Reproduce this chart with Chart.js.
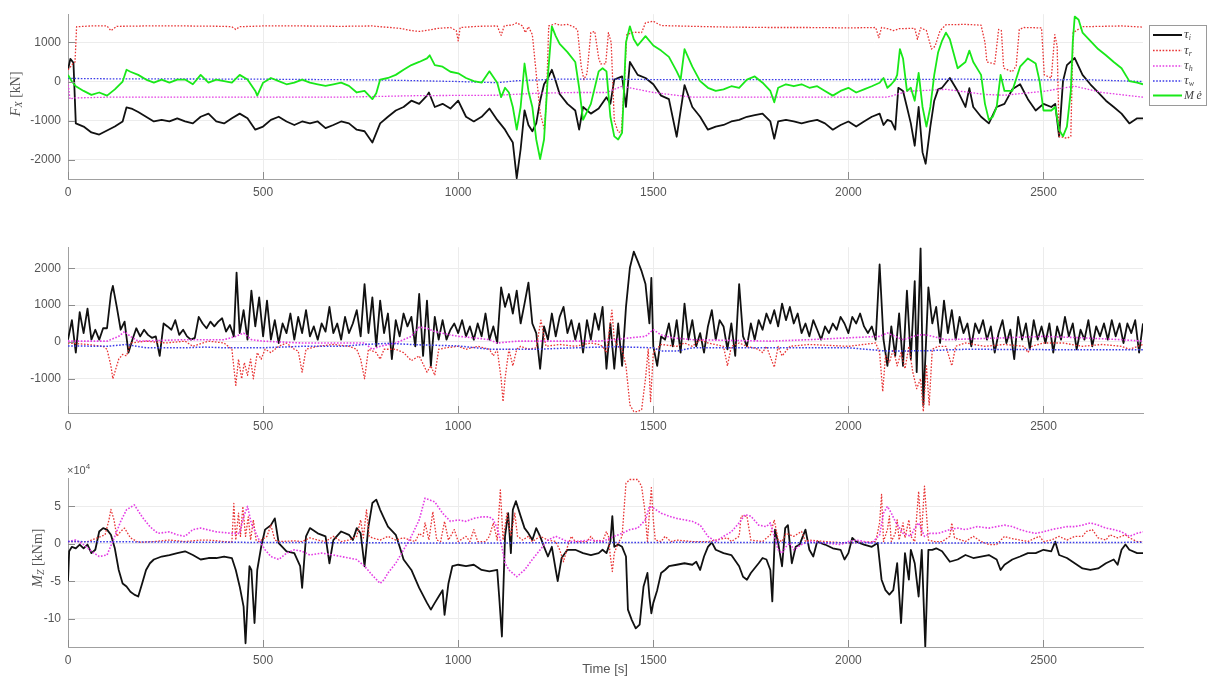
<!DOCTYPE html>
<html><head><meta charset="utf-8">
<script src="https://cdn.jsdelivr.net/npm/chart.js@4.4.1/dist/chart.umd.min.js"></script>
<style>
html,body{margin:0;padding:0;background:#fff;width:1208px;height:684px;overflow:hidden}
canvas{position:absolute;left:0}
</style></head><body>
<canvas id="c1" width="1208" height="199" style="top:0"></canvas>
<canvas id="c2" width="1208" height="200" style="top:233px"></canvas>
<canvas id="c3" width="1208" height="229" style="top:455px"></canvas>
<script>
// ---------- tick labels ----------
const timeTicks = [0, 500, 1000, 1500, 2000, 2500];
const fxTicks = [-2000, -1000, 0, 1000];
const fyTicks = [-1000, 0, 1000, 2000];
const mzTicks = [-10, -5, 0, 5];           // ×10^4 kNm
const seriesNames = ['τi', 'τr', 'τh', 'τw', 'Mė'];

// ---------- F_X [kN]  ([time s, value]) ----------
const fxTauI = [[0,300],[6,580],[14,480],[20,-1070],[40,-1150],[60,-1300],[80,-1355],[100,-1250],[120,-1150],[140,-1020],[150,-660],[165,-700],[180,-780],[200,-900],[220,-1020],[240,-980],[260,-1020],[280,-940],[300,-1020],[320,-1070],[340,-900],[360,-820],[380,-1020],[400,-1070],[420,-940],[440,-820],[460,-940],[480,-1230],[500,-1150],[520,-980],[540,-900],[560,-1020],[580,-1110],[600,-1020],[620,-1070],[640,-1020],[660,-1190],[680,-1110],[700,-1020],[720,-1070],[740,-1230],[760,-1270],[780,-1560],[800,-1070],[820,-900],[840,-740],[860,-650],[880,-490],[900,-570],[920,-360],[925,-280],[940,-650],[960,-570],[980,-690],[1000,-490],[1020,-900],[1040,-1020],[1060,-900],[1080,-690],[1100,-980],[1120,-1230],[1130,-1400],[1140,-1560],[1150,-2470],[1160,-1730],[1170,-735],[1180,-1110],[1190,-1270],[1200,-1070],[1210,-490],[1220,-70],[1230,90],[1240,300],[1250,10],[1260,-320],[1280,-570],[1300,-740],[1310,-1230],[1320,-650],[1340,-820],[1360,-690],[1380,-400],[1390,-570],[1400,50],[1420,130],[1430,-650],[1440,500],[1460,170],[1480,90],[1500,-70],[1520,-360],[1540,-450],[1560,-1410],[1580,-90],[1600,-650],[1620,-900],[1640,-1230],[1660,-1150],[1680,-1110],[1700,-1020],[1720,-980],[1740,-900],[1760,-860],[1780,-820],[1800,-1020],[1810,-1460],[1820,-1020],[1840,-980],[1860,-1020],[1880,-1070],[1900,-1020],[1920,-980],[1940,-1070],[1960,-1230],[1980,-1110],[2000,-1020],[2020,-1150],[2040,-1020],[2060,-900],[2080,-820],[2090,-1110],[2100,-980],[2110,-1020],[2120,-1230],[2128,-160],[2140,-240],[2150,-650],[2160,-1070],[2170,-1640],[2180,-650],[2190,-1810],[2198,-2100],[2210,-1150],[2220,-490],[2230,-200],[2240,-160],[2260,90],[2280,-240],[2300,-650],[2310,-170],[2320,-650],[2340,-900],[2360,-1070],[2380,-650],[2400,-570],[2420,-200],[2440,-70],[2460,-450],[2480,-740],[2500,-570],[2520,-650],[2530,-570],[2540,-1410],[2550,10],[2560,420],[2580,600],[2600,170],[2620,-70],[2640,-280],[2660,-490],[2680,-650],[2700,-820],[2720,-1070],[2740,-940],[2755,-940]];
const fxTauR = [[0,300],[12,450],[18,500],[22,1400],[60,1420],[100,1420],[110,1300],[125,1410],[200,1420],[300,1420],[400,1410],[420,1400],[430,1330],[440,1400],[500,1420],[600,1420],[700,1410],[780,1420],[800,1400],[850,1360],[880,1300],[900,1280],[920,1310],[950,1360],[980,1380],[995,1300],[1000,1040],[1005,1380],[1050,1410],[1100,1420],[1110,1180],[1118,1420],[1140,1450],[1150,1500],[1165,1420],[1172,1250],[1180,1400],[1190,1200],[1200,200],[1210,-800],[1221,-1230],[1226,-500],[1232,1420],[1250,1480],[1260,1440],[1280,1460],[1300,1380],[1306,1300],[1315,400],[1322,50],[1330,200],[1340,1250],[1350,1280],[1360,600],[1365,450],[1378,450],[1385,1250],[1392,1000],[1400,-1000],[1410,-1290],[1418,-1290],[1425,-200],[1432,1200],[1450,1260],[1470,1250],[1480,1500],[1500,1540],[1520,1430],[1600,1410],[1700,1390],[1800,1380],[1900,1380],[2000,1370],[2070,1380],[2078,1120],[2085,1380],[2100,1350],[2115,1300],[2130,1350],[2170,1360],[2177,1080],[2185,1370],[2200,1300],[2213,830],[2222,900],[2235,1300],[2250,1450],[2300,1460],[2340,1440],[2350,1000],[2355,500],[2375,450],[2385,1330],[2392,1300],[2398,340],[2420,250],[2430,400],[2438,1330],[2450,1380],[2495,1370],[2502,170],[2520,90],[2529,1200],[2535,900],[2540,-1400],[2560,-1450],[2570,-1400],[2576,1250],[2600,1400],[2700,1420],[2755,1390]];
const fxTauH = [[0,0],[5,-450],[15,-420],[100,-400],[700,-400],[900,-360],[1100,-350],[1200,-300],[1300,-280],[1380,-280],[1420,-120],[1450,-180],[1500,-280],[1600,-400],[2100,-400],[2150,-250],[2250,-200],[2350,-330],[2400,-350],[2500,-250],[2580,-120],[2650,-280],[2755,-400]];
const fxTauW = [[0,80],[100,70],[500,60],[800,40],[1000,0],[1100,-30],[1150,20],[1250,60],[1400,60],[1500,50],[2000,50],[2300,60],[2500,40],[2600,50],[2755,0]];
const fxMe = [[0,170],[10,0],[20,-120],[40,-240],[60,-340],[80,-280],[100,-360],[120,-200],[140,0],[150,300],[160,250],[180,170],[200,50],[220,-30],[240,50],[260,-30],[280,50],[300,50],[320,-70],[340,170],[360,-30],[380,50],[400,10],[420,-30],[440,170],[460,50],[480,-240],[485,-360],[500,-30],[520,90],[540,10],[560,-70],[580,-30],[600,50],[620,-30],[640,-70],[660,-110],[680,-70],[700,-30],[720,-110],[740,-280],[760,-240],[780,-450],[790,-300],[800,50],[820,90],[840,170],[860,300],[880,420],[900,500],[920,590],[927,670],[940,420],[960,380],[980,250],[1000,210],[1020,90],[1040,10],[1060,-30],[1080,260],[1100,-30],[1110,-400],[1120,-160],[1130,-280],[1140,-650],[1150,-1230],[1160,-650],[1170,460],[1180,-240],[1190,-650],[1200,-1480],[1210,-1980],[1220,-1480],[1230,170],[1240,1410],[1250,1160],[1260,960],[1280,750],[1300,500],[1310,-160],[1320,-980],[1340,-570],[1360,260],[1370,340],[1380,260],[1390,-900],[1400,-1400],[1410,-1480],[1420,-1310],[1430,1000],[1440,1410],[1450,1080],[1460,920],[1480,1160],[1500,920],[1520,790],[1540,630],[1560,260],[1570,50],[1580,830],[1600,380],[1620,10],[1640,-160],[1660,-240],[1680,-200],[1700,-120],[1720,-160],[1740,50],[1760,130],[1780,-30],[1800,-240],[1810,-530],[1820,-160],[1840,-70],[1860,-120],[1880,-70],[1900,-160],[1920,-120],[1940,-240],[1960,-360],[1980,-240],[2000,-160],[2020,-280],[2040,-200],[2060,-120],[2080,-30],[2090,90],[2100,-160],[2110,-70],[2120,50],[2125,170],[2132,830],[2140,590],[2150,-240],[2160,-160],[2170,-490],[2180,220],[2190,-650],[2200,-1150],[2210,-650],[2220,170],[2230,750],[2240,1040],[2250,1250],[2260,1080],[2280,340],[2300,500],[2310,790],[2320,500],[2340,170],[2350,-570],[2360,-980],[2370,-900],[2380,-650],[2390,170],[2400,-240],[2420,-240],[2440,380],[2460,590],[2480,460],[2490,10],[2500,-740],[2520,-740],[2530,-650],[2540,-1230],[2550,-1400],[2560,-1150],[2570,-240],[2575,1000],[2580,1660],[2590,1580],[2600,1250],[2620,1040],[2640,830],[2660,670],[2680,500],[2700,340],[2720,10],[2740,-30],[2755,-70]];

// ---------- F_Y [kN] ----------
const fyTauI = [[0,60],[10,590],[20,-290],[30,810],[40,240],[50,900],[60,60],[70,330],[80,60],[90,370],[100,370],[110,1300],[115,1520],[125,950],[135,330],[145,550],[155,-290],[165,60],[175,370],[185,150],[195,330],[205,190],[215,110],[225,150],[235,-380],[245,500],[255,420],[265,330],[275,590],[285,190],[295,330],[305,150],[315,60],[325,110],[335,680],[345,500],[355,370],[365,550],[375,420],[385,550],[395,640],[405,280],[415,460],[425,150],[432,1880],[440,240],[450,860],[460,60],[470,1390],[480,420],[490,1210],[500,150],[510,1120],[520,60],[530,590],[540,-30],[550,500],[560,240],[570,770],[580,60],[590,680],[600,240],[610,860],[620,150],[630,420],[640,60],[650,500],[660,280],[670,950],[680,240],[690,500],[700,60],[710,680],[720,240],[730,500],[740,860],[750,150],[760,1570],[770,240],[780,1210],[790,-120],[800,1120],[810,240],[820,770],[830,-470],[840,590],[850,150],[860,770],[870,420],[880,680],[890,-120],[900,1300],[910,-380],[920,1120],[930,-650],[940,680],[950,60],[960,590],[970,60],[980,330],[990,500],[1000,240],[1010,590],[1020,150],[1030,420],[1040,60],[1050,500],[1060,150],[1070,770],[1080,60],[1090,420],[1100,-30],[1110,1480],[1120,950],[1130,1300],[1140,770],[1150,1390],[1160,500],[1170,1040],[1180,1610],[1190,500],[1200,240],[1210,-730],[1220,420],[1230,60],[1240,770],[1250,150],[1260,680],[1270,950],[1280,240],[1290,590],[1300,60],[1310,500],[1320,-290],[1330,590],[1340,60],[1350,770],[1360,330],[1370,950],[1380,-730],[1390,500],[1400,-730],[1410,500],[1420,-650],[1430,950],[1440,2010],[1450,2450],[1460,2190],[1470,1920],[1480,1570],[1490,500],[1495,1740],[1500,-120],[1510,-650],[1520,150],[1530,60],[1540,500],[1550,-120],[1560,590],[1570,-290],[1580,1040],[1590,60],[1600,590],[1610,-120],[1620,240],[1630,-290],[1640,420],[1650,860],[1660,60],[1670,590],[1680,420],[1690,-200],[1700,500],[1710,-380],[1720,1570],[1730,150],[1740,-120],[1750,500],[1760,60],[1770,590],[1780,330],[1790,770],[1800,500],[1810,860],[1820,420],[1830,1040],[1840,590],[1850,950],[1860,500],[1870,770],[1880,240],[1890,500],[1900,150],[1910,590],[1920,330],[1930,60],[1940,420],[1950,240],[1960,500],[1970,330],[1980,680],[1990,500],[2000,240],[2010,680],[2020,500],[2030,770],[2040,420],[2050,240],[2060,420],[2070,60],[2080,2100],[2090,60],[2100,-650],[2110,420],[2120,-380],[2130,770],[2140,-650],[2150,1390],[2160,-470],[2170,1650],[2175,-820],[2185,2540],[2192,-1710],[2205,1480],[2215,500],[2225,950],[2235,-30],[2245,1120],[2255,240],[2265,860],[2275,60],[2285,680],[2295,240],[2305,500],[2315,-120],[2325,500],[2335,240],[2345,590],[2355,60],[2365,420],[2375,-290],[2385,240],[2395,590],[2405,-30],[2415,330],[2425,-470],[2435,680],[2445,60],[2455,500],[2465,-200],[2475,590],[2485,60],[2495,420],[2505,-30],[2515,500],[2525,-290],[2535,420],[2545,60],[2555,680],[2565,150],[2575,500],[2585,-200],[2595,330],[2605,60],[2615,590],[2625,-120],[2635,420],[2645,150],[2655,500],[2665,60],[2675,590],[2685,150],[2695,500],[2705,-30],[2715,500],[2725,240],[2735,590],[2745,-290],[2755,500]];
const fyTauR = [[0,-30],[50,-70],[90,-120],[100,-200],[110,-650],[115,-1000],[120,-820],[130,-470],[140,-340],[150,-380],[160,-30],[200,20],[250,-30],[300,20],[320,-120],[360,20],[400,-30],[420,-200],[430,-1180],[437,-470],[445,-1000],[452,-560],[460,-910],[468,-470],[475,-1000],[485,-290],[495,-470],[505,-200],[520,-290],[540,-120],[560,-30],[580,-200],[590,-250],[600,-820],[610,-200],[640,-120],[680,-70],[720,-120],[740,-200],[750,-470],[760,-1000],[770,-200],[790,-290],[800,-470],[810,-200],[840,-200],[860,-290],[880,-510],[900,-380],[920,-820],[930,-650],[940,-910],[950,-200],[970,-160],[1000,-120],[1020,-200],[1050,-120],[1080,-200],[1090,-380],[1100,-200],[1110,-1000],[1115,-1620],[1120,-1000],[1130,-200],[1140,-650],[1150,-200],[1160,-120],[1180,-200],[1200,-160],[1212,590],[1225,-120],[1260,-70],[1300,-120],[1340,-30],[1360,-70],[1370,-120],[1380,-290],[1394,860],[1400,60],[1410,-120],[1420,-200],[1430,-650],[1440,-1710],[1450,-1890],[1460,-1890],[1470,-1840],[1480,-1000],[1487,-200],[1493,-1620],[1500,-290],[1520,-70],[1560,-120],[1580,-30],[1600,-120],[1620,60],[1640,-30],[1680,-120],[1690,-650],[1700,-120],[1720,-30],[1740,-120],[1770,-200],[1780,-290],[1790,-120],[1810,-690],[1820,-120],[1830,-380],[1850,-120],[1900,-70],[2000,-120],[2070,-30],[2080,-290],[2088,-1350],[2095,-380],[2105,-560],[2115,-200],[2125,-650],[2135,-290],[2145,-730],[2155,-120],[2165,-820],[2175,-1270],[2185,-1000],[2192,-1890],[2200,-650],[2207,-1710],[2215,-200],[2230,-120],[2250,-120],[2265,-650],[2275,-120],[2300,-30],[2350,-120],[2400,-70],[2450,-120],[2460,-290],[2470,-120],[2500,-30],[2550,-30],[2600,-120],[2650,-70],[2700,-120],[2720,-200],[2755,-70]];
const fyTauH = [[0,20],[100,20],[130,150],[145,280],[160,150],[180,20],[300,60],[400,60],[430,150],[450,240],[470,60],[500,20],[600,-30],[700,-30],[760,-30],[780,-200],[800,-120],[840,-30],[880,150],[900,400],[920,370],[940,280],[980,190],[1000,150],[1040,110],[1080,60],[1100,-30],[1150,20],[1300,20],[1360,20],[1400,60],[1440,110],[1480,150],[1500,330],[1520,190],[1550,110],[1600,60],[1800,20],[1900,60],[2080,150],[2100,240],[2120,150],[2140,60],[2180,190],[2200,190],[2250,60],[2400,110],[2500,150],[2600,110],[2700,60],[2755,20]];
const fyTauW = [[0,-110],[100,-120],[150,-70],[200,-160],[300,-160],[350,-140],[400,-160],[500,-160],[600,-120],[700,-120],[760,-70],[820,-40],[900,-80],[1000,-110],[1080,-200],[1200,-200],[1300,-160],[1400,-130],[1500,-160],[1520,-250],[1560,-250],[1600,-160],[2000,-160],[2100,-250],[2200,-240],[2300,-200],[2500,-210],[2755,-210]];

// ---------- M_Z [×10^4 kNm] ----------
const mzTauI = [[0,-5],[3,-1],[10,-0.4],[20,-0.6],[30,-0.1],[40,-0.6],[50,-0.1],[60,-1.25],[70,-0.8],[80,1.65],[90,2.1],[100,1.9],[110,1.2],[120,-0.6],[130,-3.5],[140,-5.3],[150,-5.7],[160,-6.4],[170,-6.8],[180,-7.05],[190,-5.3],[200,-3.5],[210,-2.6],[220,-2.1],[240,-1.7],[260,-1.5],[280,-1.25],[300,-1],[320,-1.5],[340,-2.1],[360,-1.9],[380,-1.9],[400,-1.7],[420,-1.9],[430,-3.5],[440,-5.7],[450,-8.4],[455,-13.3],[460,-7.9],[465,-3],[470,-3.5],[478,-10.6],[485,-3.5],[495,-0.4],[505,1.9],[520,2.5],[530,3.4],[540,0.1],[560,-1],[580,-1.25],[595,-3],[600,-5.9],[610,1],[620,2.1],[640,1.4],[660,1],[670,-2.6],[680,0.5],[700,1.65],[720,1.2],[730,0.5],[740,2.1],[750,1.4],[760,-3],[770,2.3],[780,5.45],[790,5.9],[800,4.55],[810,3.4],[820,2.3],[840,1.2],[850,-0.4],[860,-2.1],[880,-3.5],[900,-5.9],[920,-7.9],[930,-8.8],[940,-7.9],[950,-7.05],[960,-6.2],[965,-9.5],[975,-5.3],[985,-3],[1000,-2.8],[1020,-3],[1040,-2.8],[1060,-3.5],[1080,-3.7],[1100,-3.5],[1105,-7.05],[1112,-12.4],[1120,1],[1128,4.1],[1135,-1.25],[1140,4.55],[1148,5.7],[1160,3.7],[1170,2.1],[1180,1.4],[1190,0.5],[1200,2.1],[1210,1],[1220,-0.4],[1230,-1.7],[1240,-0.4],[1250,-3.5],[1255,-5],[1265,-1.9],[1280,-0.8],[1300,-0.8],[1320,-1.25],[1340,-1.5],[1360,-1.25],[1370,-0.8],[1380,-1.25],[1390,0.3],[1395,3.7],[1400,-0.4],[1410,-0.1],[1420,-0.4],[1430,-1.7],[1435,-8.8],[1445,-10.2],[1455,-11.3],[1465,-10.8],[1475,-5.7],[1485,-3.9],[1490,-7.05],[1495,-9.3],[1500,-7.9],[1510,-6.2],[1520,-3.9],[1530,-3.5],[1540,-3],[1560,-2.8],[1580,-2.6],[1600,-2.8],[1610,-2.4],[1620,-3.5],[1630,-1.7],[1640,-0.4],[1650,0.2],[1660,-0.8],[1680,-1.25],[1700,-1.5],[1720,-3],[1730,-4.4],[1740,-4.8],[1750,-3.9],[1770,-2.6],[1780,-1.9],[1790,-2.1],[1800,-3.5],[1805,-7.7],[1812,1.9],[1820,0.1],[1830,-3],[1838,2.1],[1845,2.5],[1855,-2.6],[1865,-0.4],[1875,-0.1],[1890,1.9],[1900,-0.8],[1910,-1.7],[1920,0.3],[1940,-0.1],[1960,-0.6],[1980,-0.8],[1990,-2.1],[2000,-1.25],[2010,0.8],[2020,0.3],[2040,-0.1],[2060,-0.4],[2075,0.1],[2085,-4.8],[2095,-6.2],[2105,-6.8],[2115,-6.2],[2125,-2.6],[2135,-10.6],[2145,-1.25],[2155,-4.8],[2160,-0.8],[2170,-2.6],[2180,-7.05],[2188,-0.8],[2197,-13.75],[2205,-0.8],[2215,-0.8],[2225,-0.6],[2240,-1],[2260,-2.4],[2280,-2.1],[2300,-1.5],[2320,-1.9],[2340,-1.7],[2360,-1.5],[2380,-2.1],[2390,-3.5],[2400,-2.8],[2420,-2.1],[2440,-1.7],[2460,-1.25],[2480,-1.25],[2500,-0.8],[2520,-1],[2530,0.3],[2540,-1.5],[2560,-1.9],[2580,-2.6],[2600,-3.3],[2620,-3.5],[2640,-3.3],[2660,-2.6],[2680,-2.1],[2690,-2.8],[2700,-0.8],[2710,-0.1],[2720,-0.8],[2740,-1.25],[2755,-1.25]];
const mzTauR = [[0,0.3],[50,0.3],[60,0.5],[75,0.8],[95,1.2],[105,3.2],[110,4.6],[118,3.2],[125,1],[135,1.65],[145,2.1],[160,0.8],[180,0.2],[220,0.3],[260,0.5],[300,0.3],[340,0.5],[360,0.5],[400,0.3],[420,0.2],[425,5.4],[430,0.5],[437,4.1],[442,1],[448,5],[455,1],[462,3.6],[468,0.5],[475,3.2],[482,0.5],[490,0.3],[510,1],[520,2.5],[530,0.5],[540,0.3],[580,0.4],[600,0.3],[620,0.8],[640,0.5],[660,0.3],[680,1],[700,0.3],[720,0.5],[740,1],[750,3.2],[757,0.8],[765,4.55],[772,1],[780,0.8],[800,0.5],[820,1],[840,0.5],[860,0.8],[890,0.3],[900,1.4],[910,1],[915,2.8],[925,0.5],[935,4.3],[945,0.5],[955,0.3],[965,3],[975,0.5],[990,1.9],[1000,0.3],[1020,1],[1030,0.3],[1040,1.9],[1050,0.3],[1070,0.3],[1080,1],[1090,2.8],[1100,0.5],[1108,7.2],[1115,0.5],[1125,4.1],[1135,1],[1145,4.1],[1152,1],[1165,0.5],[1180,1],[1190,0.3],[1210,1],[1230,0.5],[1250,0.3],[1260,-0.8],[1270,-2.4],[1280,-0.4],[1290,1],[1300,0.3],[1330,0.3],[1340,1],[1350,0.3],[1360,0.5],[1370,0.3],[1380,1.65],[1385,1],[1390,-1.7],[1395,-3.7],[1400,-1.25],[1410,0.1],[1420,1],[1430,8.1],[1440,8.6],[1460,8.6],[1470,7.7],[1478,4.6],[1485,0.3],[1490,4.1],[1495,7.5],[1500,3.2],[1505,0.5],[1520,0.3],[1530,1],[1545,0.3],[1560,0.5],[1600,0.3],[1640,0.3],[1660,0.5],[1690,0.8],[1700,0.3],[1720,1],[1725,3.7],[1740,3.7],[1750,0.5],[1780,0.3],[1800,1.2],[1810,3.2],[1820,0.5],[1830,0.3],[1840,1.4],[1860,1],[1880,1.65],[1890,0.3],[1900,0.5],[1940,0.3],[2000,0.1],[2040,0.2],[2070,0.3],[2080,2.8],[2085,6.6],[2090,0.3],[2100,1.9],[2105,3.7],[2110,0.3],[2120,1.4],[2125,3.2],[2130,0.5],[2140,2.8],[2145,0.8],[2155,3.2],[2160,1],[2170,0.3],[2180,7],[2187,1],[2195,7.7],[2205,0.5],[2220,0.3],[2240,0.3],[2260,1],[2265,2.8],[2272,0.8],[2300,0.3],[2320,1],[2340,0.3],[2360,-0.1],[2380,-0.1],[2400,1],[2410,0.8],[2440,0.5],[2460,0.3],[2480,0.8],[2490,1],[2500,0.3],[2520,0.5],[2540,1],[2560,0.5],[2580,1],[2600,1],[2610,1.65],[2625,1.9],[2640,0.8],[2660,0.5],[2670,1.2],[2690,0.8],[2700,1],[2710,1.2],[2720,0.8],[2740,0.3],[2755,0.3]];
const mzTauH = [[0,0.3],[20,0.5],[40,-0.1],[60,-1],[80,-1.7],[100,-1.5],[120,1],[135,3],[150,4.55],[170,5.2],[190,3.6],[210,2.3],[230,1.4],[260,1.6],[280,1.2],[300,1],[320,1.9],[340,2.1],[380,1.6],[420,1.4],[440,1.4],[450,3.6],[460,5],[470,2.7],[490,0.5],[505,-0.8],[520,-1.7],[540,-2.1],[560,-1.25],[580,-0.8],[600,-1],[620,-1.5],[650,-1.25],[680,-1.5],[700,-1.7],[720,-1.9],[740,-2.1],[760,-3],[780,-4.2],[800,-5.3],[810,-4.8],[820,-3.9],[840,-2.6],[860,-0.8],[880,1],[900,3.2],[915,6.1],[930,5.8],[940,5.6],[960,4.1],[980,3],[1000,3.2],[1020,3],[1040,3.4],[1060,3.6],[1080,3.6],[1090,3.2],[1100,2.1],[1110,0.1],[1120,-2.6],[1130,-3.5],[1150,-4.4],[1170,-3.5],[1190,-2.1],[1210,-0.8],[1230,0.5],[1250,1],[1280,0.3],[1300,0.3],[1340,0.5],[1370,0.3],[1400,1],[1420,1.4],[1440,1.9],[1460,2.1],[1480,3.2],[1490,5],[1500,4.8],[1520,4.1],[1540,3.7],[1560,3.4],[1580,3.2],[1600,3],[1620,2.5],[1640,1],[1660,0.3],[1680,1],[1700,1.6],[1720,2.8],[1735,3.9],[1750,3.7],[1770,2.5],[1790,2.3],[1800,2.8],[1810,1],[1820,-0.8],[1830,-1.25],[1840,-0.4],[1850,0.1],[1860,-0.8],[1880,-0.1],[1900,0.3],[1940,0.1],[1980,-0.1],[2000,0.3],[2020,0.5],[2040,0.3],[2060,0.1],[2080,1.2],[2090,4.1],[2100,5],[2110,4.1],[2120,3],[2140,1.4],[2160,1],[2170,2.1],[2180,2.8],[2195,1],[2210,1.4],[2230,1.4],[2260,1.9],[2280,2.1],[2300,1.9],[2330,2.3],[2360,2.1],[2400,2.5],[2420,2.3],[2440,1.9],[2460,1.6],[2480,1.4],[2500,1.6],[2520,1.9],[2540,2.1],[2560,2.3],[2580,2.3],[2600,2.5],[2620,2.8],[2640,2.5],[2660,2.1],[2680,1.9],[2700,1.6],[2720,1],[2740,1.4],[2755,1.6]];
const mzTauW = [[0,0.3],[400,0.2],[1000,0.1],[1600,0.2],[2200,0.1],[2755,0.2]];

// ---------- styling ----------
const COL = {i:'#111111', r:'rgb(232,52,52)', h:'rgb(228,60,228)', w:'rgb(60,60,232)', m:'rgb(25,232,25)'};
const LBL = '#555555';
const xy = a => a.map(p => ({x:p[0], y:p[1]}));
function ds(arr, key, dotted, order, w){
  return {data: xy(arr), borderColor: COL[key], borderWidth: w || (dotted?1.3:1.7),
    borderDash: dotted?[1.6,1.6]:[], pointRadius:0, fill:false, tension:0, order:order,
    borderJoinStyle:'round'};
}
function rich(ctx, parts, cx, cy, angle, align){
  ctx.save(); ctx.translate(cx, cy); ctx.rotate(angle||0);
  let w = 0; parts.forEach(p=>{ctx.font=p.f; w+=ctx.measureText(p.t).width;});
  let x = align==='left'?0:-w/2;
  ctx.textBaseline='middle'; ctx.textAlign='left';
  parts.forEach(p=>{ctx.font=p.f; ctx.fillStyle=p.c||LBL; ctx.fillText(p.t, x, p.dy||0); x+=ctx.measureText(p.t).width;});
  ctx.restore();
}
const SERIF='"Liberation Serif","DejaVu Serif",serif';
const SANS='"Liberation Sans",Arial,sans-serif';
const tickMarks = {id:'tickMarks', afterDraw(chart){
  const {ctx, chartArea:a, scales} = chart;
  ctx.save(); ctx.strokeStyle='#8c8c8c'; ctx.lineWidth=1; ctx.beginPath();
  scales.x.ticks.forEach(t=>{const px=Math.round(scales.x.getPixelForValue(t.value))+0.5; ctx.moveTo(px,a.bottom); ctx.lineTo(px,a.bottom-7);});
  scales.y.ticks.forEach(t=>{const py=Math.round(scales.y.getPixelForValue(t.value))+0.5; ctx.moveTo(a.left,py); ctx.lineTo(a.left+7,py);});
  ctx.stroke(); ctx.restore();
}};
function make(id, datasets, yMin, yMax, yTicks, xH, padTop, extra){
  return new Chart(document.getElementById(id), {
    type:'line',
    data:{datasets},
    options:{
      responsive:false, animation:false, events:[],
      layout:{padding:{top:padTop, right:65, left:0, bottom:0}},
      plugins:{legend:{display:false}, tooltip:{enabled:false}},
      scales:{
        x:{type:'linear', min:0, max:2755,
          afterBuildTicks:s=>{s.ticks = timeTicks.map(v=>({value:v}));},
          afterFit:s=>{s.height = xH;},
          ticks:{font:{family:SANS, size:12}, color:LBL, padding:6, maxRotation:0, autoSkip:false, callback:v=>String(v)},
          grid:{color:'#ececec', drawTicks:false}, border:{color:'#a0a0a0'}},
        y:{type:'linear', min:yMin, max:yMax,
          afterBuildTicks:s=>{s.ticks = yTicks.map(v=>({value:v}));},
          afterFit:s=>{s.width = 68;},
          ticks:{font:{family:SANS, size:12}, color:LBL, padding:7, autoSkip:false, callback:v=>String(v)},
          grid:{color:'#ececec', drawTicks:false}, border:{color:'#a0a0a0'}}
      }
    },
    plugins:[tickMarks, {id:'extra', afterDraw:extra}]
  });
}

// ---------- chart 1 : F_X ----------
make('c1', [
  ds(fxTauI,'i',false,5,1.8), ds(fxTauR,'r',true,4), ds(fxTauH,'h',true,3), ds(fxTauW,'w',true,2), ds(fxMe,'m',false,1,1.8)
], -2490, 1720, fxTicks, 20, 10, chart=>{
  const ctx = chart.ctx;
  rich(ctx, [{t:'F',f:'italic 15px '+SERIF},{t:'X',f:'italic 10px '+SERIF,dy:3},{t:' [kN]',f:'14px '+SERIF}], 16, 94, -Math.PI/2);
  // legend
  ctx.save(); ctx.fillStyle='#fff'; ctx.fillRect(1149.5,25.5,57,80);
  ctx.strokeStyle='#9a9a9a'; ctx.lineWidth=1; ctx.strokeRect(1149.5,25.5,57,80);
  const rows = [['i',false,35],['r',true,50.5],['h',true,66],['w',true,81],['m',false,95.5]];
  rows.forEach(r=>{
    ctx.beginPath(); ctx.strokeStyle=COL[r[0]]; ctx.lineWidth=r[1]?1.3:2;
    ctx.setLineDash(r[1]?[1.6,1.6]:[]); ctx.moveTo(1153,r[2]); ctx.lineTo(1182,r[2]); ctx.stroke();
  });
  ctx.setLineDash([]); ctx.restore();
  const subs = ['i','r','h','w'];
  subs.forEach((s,k)=>rich(ctx,[{t:seriesNames[k].charAt(0),f:'italic 13px '+SERIF,c:'#444'},{t:s,f:'italic 8px '+SERIF,dy:3,c:'#444'}],1184,rows[k][2],0,'left'));
  rich(ctx,[{t:'M',f:'italic 12px '+SERIF,c:'#444'},{t:'\u2009ė',f:'italic 12px '+SERIF,c:'#444'}],1184,rows[4][2],0,'left');
});

// ---------- chart 2 : F_Y ----------
make('c2', [
  ds(fyTauI,'i',false,5,1.8), ds(fyTauR,'r',true,4), ds(fyTauH,'h',true,3,1.6), ds(fyTauW,'w',true,2,1.5)
], -1930, 2570, fyTicks, 20, 10, chart=>{
  rich(chart.ctx, [{t:'F',f:'italic 15px '+SERIF},{t:'Y',f:'italic 10px '+SERIF,dy:3},{t:' [kN]',f:'14px '+SERIF}], 24, 326, -Math.PI/2);
});

// ---------- chart 3 : M_Z ----------
make('c3', [
  ds(mzTauI,'i',false,5,1.8), ds(mzTauR,'r',true,4), ds(mzTauH,'h',true,3,1.6), ds(mzTauW,'w',true,2,1.5)
], -13.8, 8.8, mzTicks, 37, 23, chart=>{
  const ctx = chart.ctx;
  rich(ctx, [{t:'M',f:'italic 15px '+SERIF},{t:'Z',f:'italic 10px '+SERIF,dy:3},{t:' [kNm]',f:'14px '+SERIF}], 38, 103, -Math.PI/2);
  rich(ctx, [{t:'×10',f:'11px '+SANS},{t:'4',f:'8px '+SANS,dy:-4}], 67, 16, 0, 'left');
  rich(ctx, [{t:'Time [s]',f:'13px '+SANS}], 605, 214, 0);
});
</script>
</body></html>
